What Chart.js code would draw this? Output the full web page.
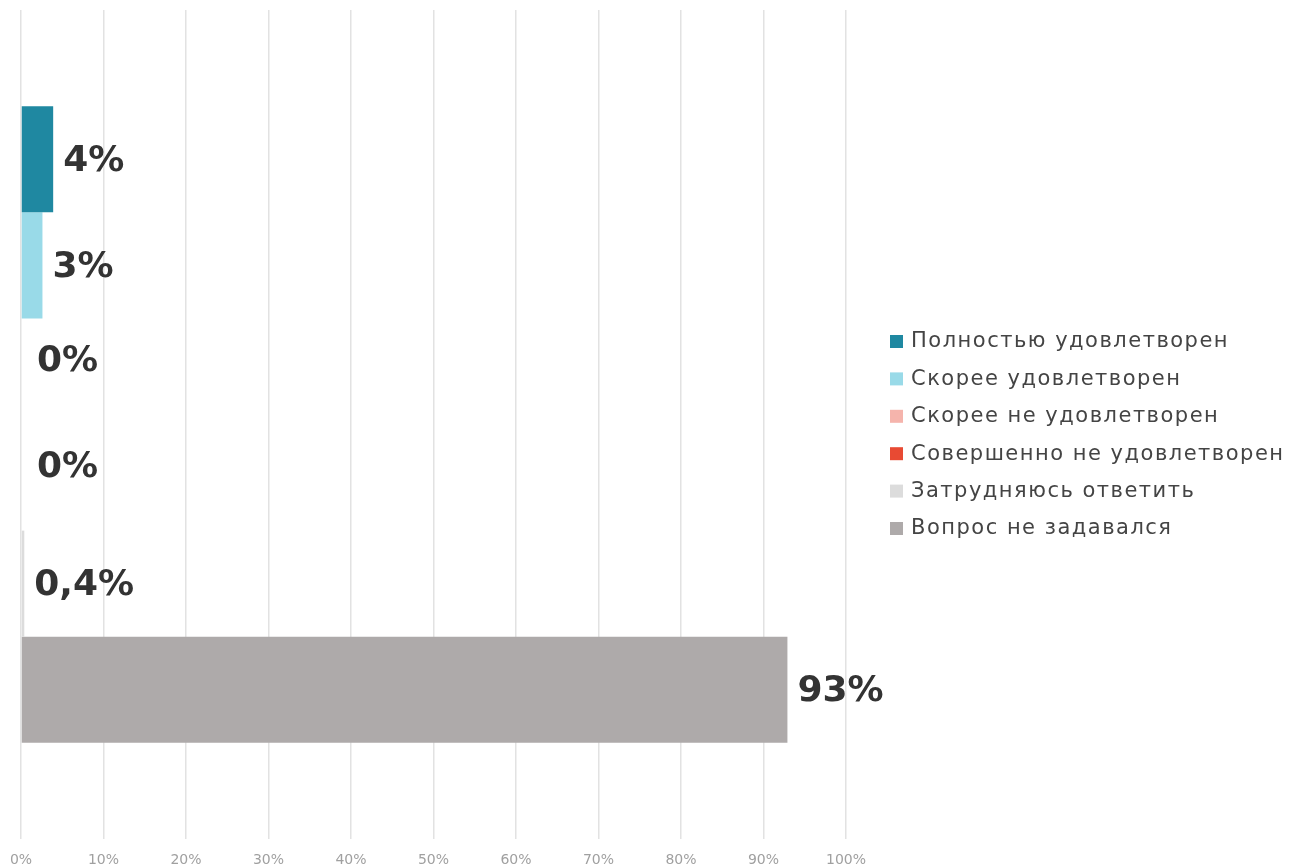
<!DOCTYPE html>
<html>
<head>
<meta charset="utf-8">
<script src="https://cdn.jsdelivr.net/npm/chart.js@4.4.1/dist/chart.umd.min.js"></script>
<style>
    html, body { margin: 0; padding: 0; background: #ffffff; }
    #wrap { position: relative; width: 1289px; height: 867px; }
</style>
</head>
<body>
<div id="wrap"><canvas id="chart" width="1289" height="867"></canvas></div>
<script>
// chart data
var categories = [""];
var seriesNames = [
    "Полностью удовлетворен",
    "Скорее удовлетворен",
    "Скорее не удовлетворен",
    "Совершенно не удовлетворен",
    "Затрудняюсь ответить",
    "Вопрос не задавался"
];
var seriesValues = [3.9, 2.6, 0, 0, 0.4, 92.9];
var valueLabels = ["4%", "3%", "0%", "0%", "0,4%", "93%"];
var seriesColors = ["#1f88a1", "#99dae8", "#f5b4ac", "#e84a33", "#dcdcdc", "#aeaaaa"];
var tickValues = [0, 10, 20, 30, 40, 50, 60, 70, 80, 90, 100];

/**
 * valueLabels plugin
 *
 * Draws the bold value text right after each bar.
 */
var valueLabelPlugin = {
    id: "valueLabels",
    afterDatasetsDraw: function (chart) {
        var ctx = chart.ctx;
        ctx.save();
        ctx.font = "bold 36px 'DejaVu Sans'";
        ctx.fillStyle = "#333333";
        ctx.textBaseline = "middle";
        ctx.textAlign = "left";
        chart.data.datasets.forEach(function (ds, i) {
            var bar = chart.getDatasetMeta(i).data[0];
            if (!bar)
                return;
            var zero = seriesValues[i] == 0;
            var x = bar.x + (zero ? 16 : 10);
            var y = bar.y + (zero ? -10 : 2);
            ctx.fillText(valueLabels[i], x, y);
        });
        ctx.restore();
    }
};

/**
 * sideLegend plugin
 *
 * Legend column to the right of the plot area.
 */
var sideLegendPlugin = {
    id: "sideLegend",
    afterDraw: function (chart) {
        var ctx = chart.ctx;
        var area = chart.chartArea;
        var step = 37.4;
        var items = chart.data.datasets;
        var x = area.right + 44;
        var y = (area.top + area.bottom) / 2 + 10 - step * (items.length - 1) / 2;

        ctx.save();
        ctx.font = "21px 'DejaVu Sans'";
        ctx.letterSpacing = "1.5px";
        ctx.textBaseline = "middle";
        ctx.textAlign = "left";
        items.forEach(function (ds, i) {
            var cy = y + i * step;
            ctx.fillStyle = ds.backgroundColor;
            ctx.fillRect(x, cy - 6, 13, 13);
            ctx.fillStyle = "#444444";
            ctx.fillText(ds.label, x + 21, cy + 1);
        });
        ctx.restore();
    }
};

var datasets = seriesNames.map(function (name, i) {
    return {
        label: name,
        data: [seriesValues[i]],
        backgroundColor: seriesColors[i],
        borderWidth: 0,
        barPercentage: 1,
        categoryPercentage: 0.768
    };
});

new Chart(document.getElementById("chart"), {
    type: "bar",
    data: { labels: categories, datasets: datasets },
    options: {
        indexAxis: "y",
        responsive: false,
        animation: false,
        layout: { padding: { left: 21, top: 10, right: 443, bottom: 0 } },
        scales: {
            x: {
                min: 0,
                max: 100,
                afterBuildTicks: function (axis) {
                    axis.ticks = tickValues.map(function (v) { return { value: v }; });
                },
                afterFit: function (axis) {
                    axis.height = 28;
                    axis.paddingLeft = 0;
                    axis.paddingRight = 0;
                },
                border: { display: false },
                grid: { color: "#e2e2e2", lineWidth: 1.5, drawTicks: false },
                ticks: {
                    color: "#a0a0a0",
                    padding: 14,
                    maxRotation: 0,
                    font: { family: "'DejaVu Sans'", size: 14, lineHeight: 1 },
                    callback: function (v) { return v + "%"; }
                }
            },
            y: { display: false }
        },
        plugins: {
            tooltip: { enabled: false },
            legend: { display: false }
        }
    },
    plugins: [valueLabelPlugin, sideLegendPlugin]
});
</script>
</body>
</html>
